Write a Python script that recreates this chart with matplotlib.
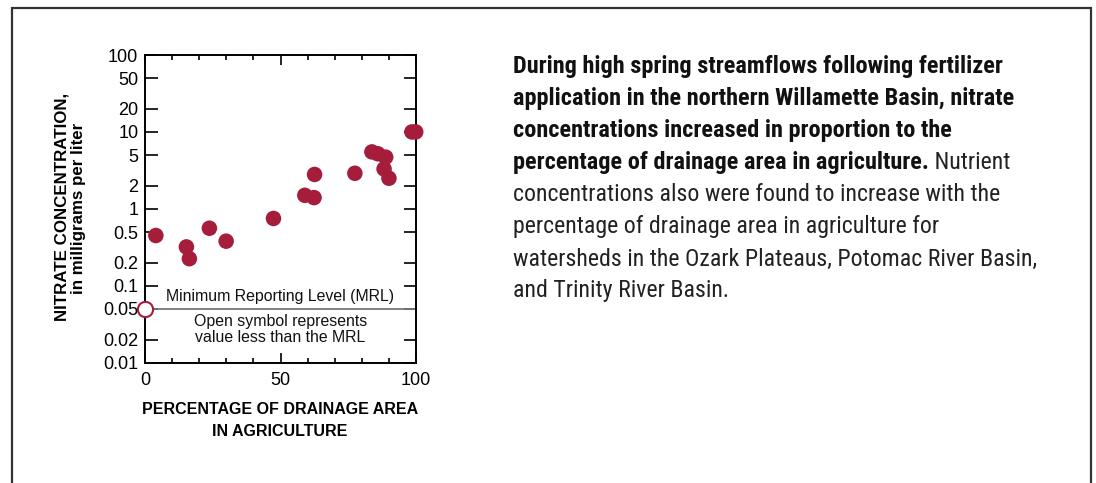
import numpy as np
import matplotlib
matplotlib.use("Agg")
import matplotlib.pyplot as plt
from matplotlib import font_manager as fm
from matplotlib.lines import Line2D

# ---------------- data ----------------
pct_agriculture = [3.9, 15.2, 16.3, 23.7, 29.9, 47.4, 59.0, 62.4, 62.6, 77.5,
                   83.8, 86.0, 88.9, 88.3, 90.1, 98.6, 100.0]
nitrate_mg_l = [0.45, 0.32, 0.225, 0.56, 0.38, 0.75, 1.5, 1.4, 2.8, 2.9,
                5.5, 5.2, 4.7, 3.3, 2.5, 10.0, 10.0]
censored_x = [0.0]
censored_y = [0.05]
mrl_value = 0.05

y_ticks = [0.01, 0.02, 0.05, 0.1, 0.2, 0.5, 1, 2, 5, 10, 20, 50, 100]
y_ticklabels = ["0.01", "0.02", "0.05", "0.1", "0.2", "0.5", "1", "2", "5",
                "10", "20", "50", "100"]
x_major = [0, 50, 100]
x_minor = [10, 20, 30, 40, 60, 70, 80, 90]

para_lines = [
    ("During high spring streamflows following fertilizer", ""),
    ("application in the northern Willamette Basin, nitrate", ""),
    ("concentrations increased in proportion to the", ""),
    ("percentage of drainage area in agriculture.", " Nutrient"),
    ("", "concentrations also were found to increase with the"),
    ("", "percentage of drainage area in agriculture for"),
    ("", "watersheds in the Ozark Plateaus, Potomac River Basin,"),
    ("", "and Trinity River Basin."),
]

# ---------------- style ----------------
W, H = 1096, 483
RED = "#A51D3B"
plt.rcParams["font.family"] = ["Liberation Sans", "DejaVu Sans"]

names = {f.name for f in fm.fontManager.ttflist}
narrow = "Liberation Sans"
for cand in ["Roboto Condensed", "Liberation Sans Narrow", "Arial Narrow"]:
    if cand in names:
        narrow = cand
        break

fig = plt.figure(figsize=(W / 100, H / 100), dpi=100)

def fx(px):
    return px / W

def fy(py):
    return 1 - py / H

# frame
fig.add_artist(Line2D([fx(12), fx(12), fx(1091), fx(1091)],
                      [fy(490), fy(8), fy(8), fy(490)],
                      color="#333333", lw=1.6, transform=fig.transFigure,
                      solid_joinstyle="miter"))

# axes
L, R, T, B = 145.3, 415.7, 55.0, 362.7
ax = fig.add_axes([fx(L), fy(B), (R - L) / W, (B - T) / H])
ax.set_xlim(0, 100)
ax.set_yscale("log")
ax.set_ylim(0.01, 100)

ax.set_yticks(y_ticks)
ax.set_yticklabels(y_ticklabels)
ax.yaxis.set_minor_locator(matplotlib.ticker.NullLocator())
ax.set_xticks(x_major)
ax.set_xticks(x_minor, minor=True)
ax.tick_params(axis="y", which="major", direction="in", length=9, width=1.2,
               left=True, right=True, labelsize=13, pad=5)
ax.tick_params(axis="x", which="major", direction="in", length=7.5, width=1.2,
               top=True, bottom=True, labelsize=13, pad=6.5)
ax.tick_params(axis="x", which="minor", direction="in", length=3.8, width=1.2,
               top=True, bottom=True)
for s in ax.spines.values():
    s.set_linewidth(1.4)

ax.plot([0, 100], [mrl_value, mrl_value], color="#777777", lw=1.3, zorder=2)
ax.scatter(pct_agriculture, nitrate_mg_l, s=125, color=RED, edgecolors="none",
           zorder=3, clip_on=False)
ax.scatter(censored_x, censored_y, s=120, facecolors="white", edgecolors=RED,
           linewidths=1.5, zorder=5, clip_on=False)

ax.text(50, 0.0735, "Minimum Reporting Level (MRL)", ha="center", va="center",
        fontsize=11.4, color="#111111")
ax.text(50, 0.027, "Open symbol represents\nvalue less than the MRL",
        ha="center", va="center", fontsize=11.4, color="#111111",
        linespacing=1.02)

# axis labels
fig.text(fx(62), fy(207), "NITRATE CONCENTRATION,", rotation=90, ha="center",
         va="center", fontsize=12.2, fontweight="bold")
fig.text(fx(79), fy(208), "in milligrams per liter", rotation=90, ha="center",
         va="center", fontsize=12.2, fontweight="bold")
fig.text(fx(280), fy(410), "PERCENTAGE OF DRAINAGE AREA", ha="center",
         va="center", fontsize=11.5, fontweight="bold")
fig.text(fx(280), fy(432), "IN AGRICULTURE", ha="center", va="center",
         fontsize=11.5, fontweight="bold")

# paragraph: calibrate font sizes
fig.canvas.draw()
rend = fig.canvas.get_renderer()

def width_px(s, weight, size):
    t = fig.text(0, 0, s, fontsize=size, fontweight=weight, family=narrow)
    w = t.get_window_extent(rend).width
    t.remove()
    return w

bold_size = 12 * 492 / width_px(para_lines[0][0], "bold", 12)
reg_size = 12 * 522 / width_px(para_lines[6][1], "normal", 12)

x0 = 513
base0 = 73.5
step = 32.0
for i, (b, r) in enumerate(para_lines):
    yb = fy(base0 + i * step)
    xr = fx(x0)
    if b:
        tb = fig.text(fx(x0), yb, b, fontsize=bold_size, fontweight="bold",
                      family=narrow, va="baseline", ha="left", color="#111111")
        if r:
            ext = tb.get_window_extent(rend)
            xr = ext.x1 / W
    if r:
        fig.text(xr, yb, r, fontsize=reg_size, fontweight="normal",
                 family=narrow, va="baseline", ha="left", color="#222222")

fig.savefig("out.png", dpi=100)
